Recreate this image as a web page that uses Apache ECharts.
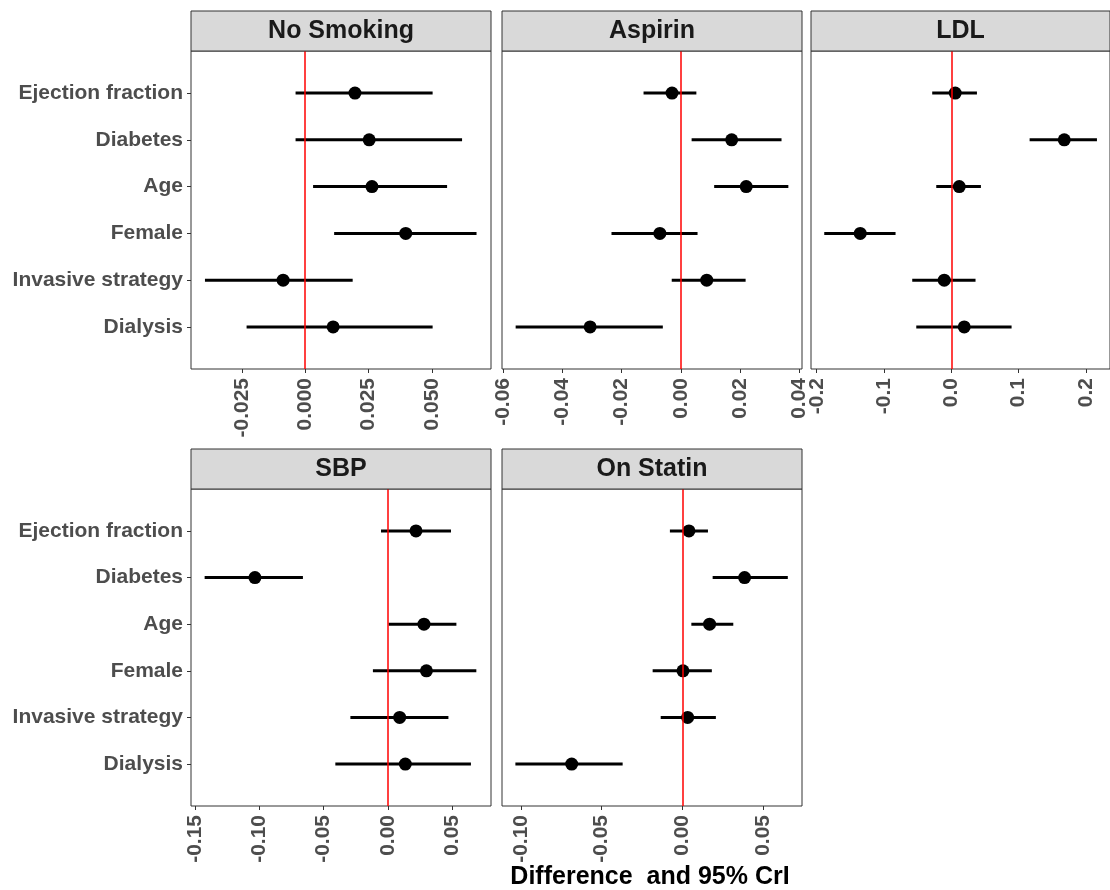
<!DOCTYPE html>
<html>
<head>
<meta charset="utf-8">
<script src="https://cdn.jsdelivr.net/npm/echarts@6/dist/echarts.min.js"></script>
<style>html,body{margin:0;padding:0;background:#fff;}#chart{width:1110px;height:890px;}</style>
</head>
<body>
<div id="chart"></div>
<script>
// ---- data ----
const categories = ['Ejection fraction', 'Diabetes', 'Age', 'Female', 'Invasive strategy', 'Dialysis'];
const panelNames = ['No Smoking', 'Aspirin', 'LDL', 'SBP', 'On Statin'];

const noSmokingEst  = [0.0196, 0.0252, 0.0263, 0.0396, -0.0087, 0.0110];
const noSmokingLow  = [-0.0038, -0.0038, 0.0031, 0.0114, -0.0395, -0.0231];
const noSmokingHigh = [0.0502, 0.0618, 0.0559, 0.0675, 0.0187, 0.0502];

const aspirinEst  = [-0.0030, 0.0171, 0.0220, -0.0071, 0.0087, -0.0306];
const aspirinLow  = [-0.0126, 0.0036, 0.0112, -0.0234, -0.0031, -0.0557];
const aspirinHigh = [0.0052, 0.0339, 0.0362, 0.0056, 0.0218, -0.0061];

const ldlEst  = [0.0059, 0.168, 0.0119, -0.1353, -0.0104, 0.0193];
const ldlLow  = [-0.0283, 0.1165, -0.0223, -0.1888, -0.058, -0.052];
const ldlHigh = [0.0382, 0.2166, 0.0441, -0.0828, 0.0361, 0.0897];

const sbpEst  = [0.0218, -0.1034, 0.028, 0.0299, 0.0091, 0.0135];
const sbpLow  = [-0.0054, -0.1425, 0.0005, -0.0117, -0.0292, -0.0409];
const sbpHigh = [0.049, -0.0661, 0.0532, 0.0687, 0.047, 0.0645];

const statinEst  = [0.0041, 0.0386, 0.0169, 0.0004, 0.0033, -0.0686];
const statinLow  = [-0.0077, 0.0188, 0.0056, -0.0184, -0.0134, -0.1035];
const statinHigh = [0.0159, 0.0654, 0.0316, 0.0183, 0.0208, -0.037];

const noSmokingTicks = ['-0.025', '0.000', '0.025', '0.050'];
const aspirinTicks   = ['-0.06', '-0.04', '-0.02', '0.00', '0.02', '0.04'];
const ldlTicks       = ['-0.2', '-0.1', '0.0', '0.1', '0.2'];
const sbpTicks       = ['-0.15', '-0.10', '-0.05', '0.00', '0.05'];
const statinTicks    = ['-0.10', '-0.05', '0.00', '0.05'];

const xAxisTitle = 'Difference  and 95% CrI';

// ---- layout ----
const panelData = [
  {est: noSmokingEst, low: noSmokingLow, high: noSmokingHigh, ticks: noSmokingTicks, range: [-0.045, 0.0732]},
  {est: aspirinEst, low: aspirinLow, high: aspirinHigh, ticks: aspirinTicks, range: [-0.0603, 0.0408]},
  {est: ldlEst, low: ldlLow, high: ldlHigh, ticks: ldlTicks, range: [-0.2085, 0.236]},
  {est: sbpEst, low: sbpLow, high: sbpHigh, ticks: sbpTicks, range: [-0.1531, 0.0801]},
  {est: statinEst, low: statinLow, high: statinHigh, ticks: statinTicks, range: [-0.1118, 0.0742]}
];
const layout = [
  {left: 191, top: 51, width: 300, height: 318},
  {left: 502, top: 51, width: 300, height: 318},
  {left: 811, top: 51, width: 299, height: 318},
  {left: 191, top: 489, width: 300, height: 317},
  {left: 502, top: 489, width: 300, height: 317}
];
const stripH = 40;
const FONT = '"Liberation Sans", Arial, sans-serif';
const yPad = 0.9;
const nCat = categories.length;
const catIdx = categories.map((c, i) => i);

const grids = [], xAxes = [], yAxes = [], series = [], graphics = [];
layout.forEach((L, p) => {
  const D = panelData[p];
  grids.push({left: L.left, top: L.top, width: L.width, height: L.height,
    show: true, borderColor: '#333333', borderWidth: 1, backgroundColor: '#ffffff', containLabel: false});
  const tickVals = D.ticks.map(Number);
  const labelMap = {};
  D.ticks.forEach(t => { labelMap[String(Number(t))] = t; });
  xAxes.push({type: 'value', gridIndex: p, min: D.range[0], max: D.range[1], position: 'bottom',
    axisLine: {show: false, onZero: false},
    splitLine: {show: false},
    axisTick: {show: true, length: 4, lineStyle: {color: '#333333', width: 1}, customValues: tickVals},
    axisLabel: {show: true, rotate: 90, margin: 9, fontSize: 21, fontWeight: 'bold', color: '#4D4D4D',
      fontFamily: FONT, customValues: tickVals,
      formatter: v => labelMap[String(v)] !== undefined ? labelMap[String(v)] : String(v)}
  });
  const leftCol = (p === 0 || p === 3);
  yAxes.push({type: 'value', gridIndex: p, inverse: true, min: -yPad, max: nCat - 1 + yPad, position: 'left',
    axisLine: {show: false, onZero: false}, splitLine: {show: false},
    axisTick: {show: leftCol, length: 4, lineStyle: {color: '#333333', width: 1}, customValues: catIdx},
    axisLabel: {show: leftCol, margin: 8, fontSize: 21, fontWeight: 'bold', color: '#4D4D4D', fontFamily: FONT,
      padding: [5, 0, 0, 0],
      customValues: catIdx, formatter: v => categories[Math.round(v)] || ''}
  });
  // error bars
  series.push({type: 'custom', xAxisIndex: p, yAxisIndex: p, z: 2,
    encode: {x: [0, 1], y: 2},
    data: categories.map((c, i) => [D.low[i], D.high[i], i]),
    renderItem: (params, api) => {
      const a = api.coord([api.value(0), api.value(2)]);
      const b = api.coord([api.value(1), api.value(2)]);
      return {type: 'line', shape: {x1: a[0], y1: a[1], x2: b[0], y2: b[1]},
        style: {stroke: '#000000', lineWidth: 3}};
    }, silent: true
  });
  // points
  series.push({type: 'scatter', xAxisIndex: p, yAxisIndex: p, z: 3,
    symbol: 'circle', symbolSize: 13, itemStyle: {color: '#000000', opacity: 1},
    data: categories.map((c, i) => [D.est[i], i]), silent: true
  });
  // zero reference line
  series.push({type: 'scatter', xAxisIndex: p, yAxisIndex: p, z: 5, data: [], silent: true,
    markLine: {silent: true, symbol: ['none', 'none'], label: {show: false},
      lineStyle: {color: '#FF0000', width: 1.5, type: 'solid', opacity: 1},
      emphasis: {disabled: true},
      data: [{xAxis: 0}]}
  });
  // strip
  graphics.push({type: 'rect', shape: {x: L.left, y: L.top - stripH, width: L.width, height: stripH},
    style: {fill: '#D9D9D9', stroke: '#333333', lineWidth: 1}, z: 10});
  graphics.push({type: 'text', x: L.left + L.width / 2, y: L.top - stripH / 2,
    style: {text: panelNames[p], fill: '#1A1A1A', font: 'bold 25px ' + FONT,
      textAlign: 'center', textVerticalAlign: 'middle'}, z: 11});
});
graphics.push({type: 'text', x: 650, y: 877,
  style: {text: xAxisTitle, fill: '#000000', font: 'bold 25px ' + FONT,
    textAlign: 'center', textVerticalAlign: 'middle'}, z: 11});

const chart = echarts.init(document.getElementById('chart'), null, {renderer: 'canvas'});
chart.setOption({
  animation: false,
  backgroundColor: '#ffffff',
  grid: grids, xAxis: xAxes, yAxis: yAxes, series: series,
  graphic: {elements: graphics}
});
</script>
</body>
</html>
